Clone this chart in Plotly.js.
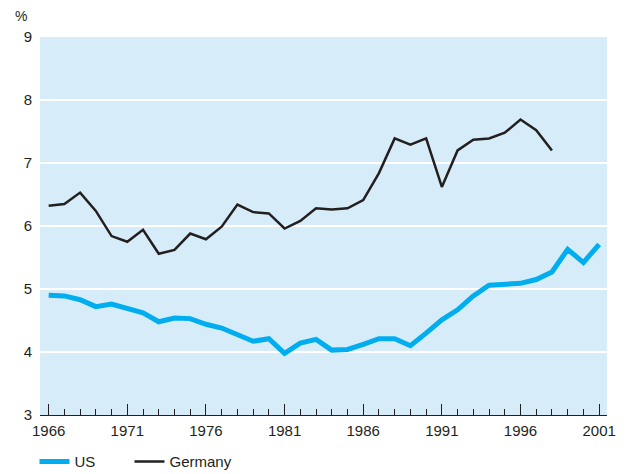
<!DOCTYPE html>
<html>
<head>
<meta charset="utf-8">
<script src="https://cdn.plot.ly/plotly-3.0.1.min.js"></script>
<style>html,body{margin:0;padding:0;background:#fff;}#chart{width:627px;height:474px;}</style>
</head>
<body>
<div id="chart"></div>
<script>
const yearsUS = [1966,1967,1968,1969,1970,1971,1972,1973,1974,1975,1976,1977,1978,1979,1980,1981,1982,1983,1984,1985,1986,1987,1988,1989,1990,1991,1992,1993,1994,1995,1996,1997,1998,1999,2000,2001];
const usValues = [4.90,4.89,4.83,4.72,4.76,4.69,4.62,4.48,4.54,4.53,4.44,4.38,4.27,4.17,4.21,3.98,4.14,4.20,4.03,4.04,4.12,4.21,4.21,4.10,4.30,4.51,4.67,4.89,5.06,5.08,5.09,5.15,5.27,5.63,5.42,5.71];
const yearsDE = [1966,1967,1968,1969,1970,1971,1972,1973,1974,1975,1976,1977,1978,1979,1980,1981,1982,1983,1984,1985,1986,1987,1988,1989,1990,1991,1992,1993,1994,1995,1996,1997,1998];
const deValues = [6.32,6.35,6.53,6.24,5.84,5.75,5.94,5.56,5.62,5.88,5.79,5.99,6.34,6.22,6.20,5.96,6.08,6.28,6.26,6.28,6.41,6.84,7.39,7.29,7.39,6.62,7.20,7.37,7.39,7.48,7.69,7.52,7.20];
const seriesNames = ['US','Germany'];
const xTickVals = [1966,1971,1976,1981,1986,1991,1996,2001];
const yTickVals = [3,4,5,6,7,8,9];
const yUnit = '%';

const font = {family:'Liberation Sans, Arial, sans-serif', color:'#231f20'};
const data = [
  {x: yearsUS, y: usValues, name: seriesNames[0], type:'scatter', mode:'lines',
   line:{color:'#00aeef', width:5}, legend:'legend'},
  {x: yearsDE, y: deValues, name: seriesNames[1], type:'scatter', mode:'lines',
   line:{color:'#231f20', width:2.5}, legend:'legend2'}
];
const legendBase = {orientation:'h', xref:'container', yref:'container', xanchor:'left', y:0.026, yanchor:'middle',
          font:Object.assign({size:15}, font), bgcolor:'rgba(0,0,0,0)'};
const layout = {
  width:627, height:474,
  margin:{l:40, r:20, t:37, b:59, autoexpand:false},
  paper_bgcolor:'#ffffff', plot_bgcolor:'#d6edf9',
  font: Object.assign({size:15}, font),
  showlegend:true,
  legend:Object.assign({x:0.055}, legendBase),
  legend2:Object.assign({x:0.2065}, legendBase),
  xaxis:{range:[1965.45, 2001.5], tickvals:xTickVals, ticktext:xTickVals.map(String),
         ticks:'inside', ticklen:11, tickwidth:1, tickcolor:'#231f20',
         minor:{dtick:1, tick0:1966, ticks:'inside', ticklen:6, tickwidth:1, tickcolor:'#231f20', showgrid:false},
         showline:true, linecolor:'#231f20', linewidth:1, showgrid:false, zeroline:false,
         tickfont:Object.assign({size:15}, font), ticklabelstandoff:2, fixedrange:true},
  yaxis:{range:[3,9], tickvals:yTickVals, ticktext:yTickVals.map(String),
         ticks:'', showgrid:true, gridcolor:'#ffffff', gridwidth:2, zeroline:false, showline:false,
         tickfont:Object.assign({size:15}, font), ticklabelstandoff:7, fixedrange:true},
  annotations:[{text:yUnit, xref:'paper', yref:'paper', x:-0.034, y:1.0, yshift:21, xanchor:'center', yanchor:'middle',
                showarrow:false, font:Object.assign({size:14}, font)}]
};
Plotly.newPlot('chart', data, layout, {displayModeBar:false, staticPlot:true});
</script>
</body>
</html>
